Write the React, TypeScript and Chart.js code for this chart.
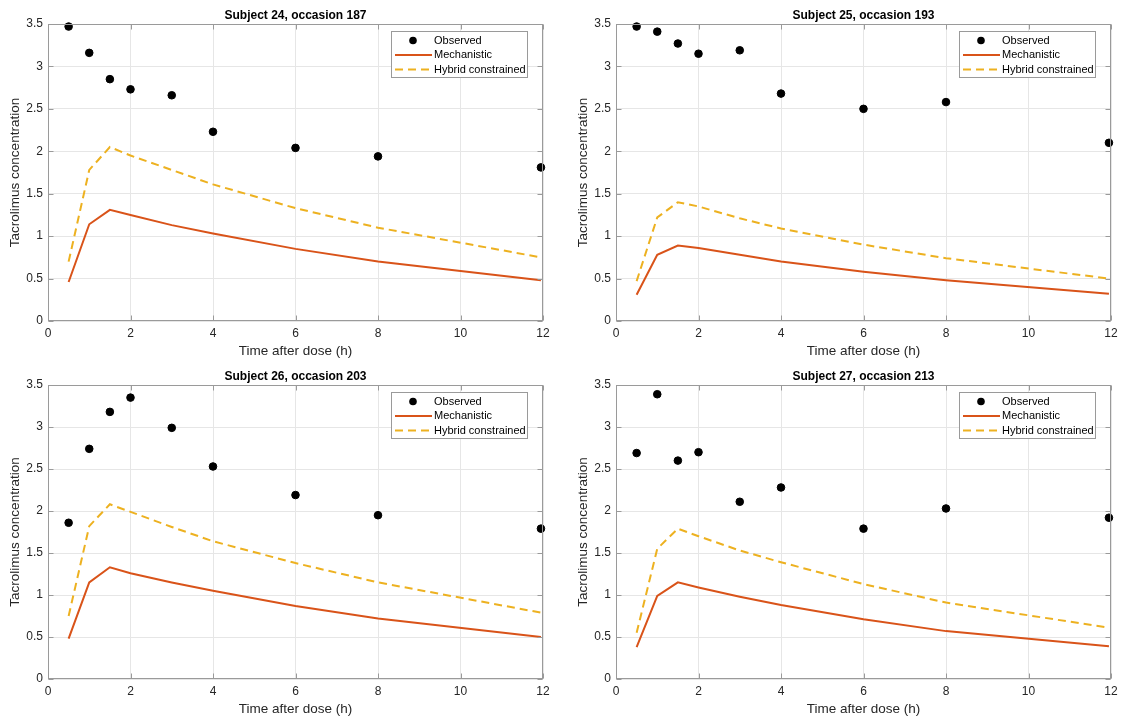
import React, { useEffect, useRef } from "react";
import { Chart, registerables } from "chart.js";

Chart.register(...registerables);

// sample times (h)
const times = [0.5, 1, 1.5, 2, 3, 4, 6, 8, 11.95];
const xTicks = [0, 2, 4, 6, 8, 10, 12];
const yTicks = [0, 0.5, 1, 1.5, 2, 2.5, 3, 3.5];

const titles = [
  "Subject 24, occasion 187",
  "Subject 25, occasion 193",
  "Subject 26, occasion 203",
  "Subject 27, occasion 213",
];

const observed24 = [3.47, 3.16, 2.85, 2.73, 2.66, 2.23, 2.04, 1.94, 1.81];
const mechanistic24 = [0.46, 1.14, 1.31, 1.25, 1.13, 1.03, 0.85, 0.7, 0.48];
const hybrid24 = [0.7, 1.78, 2.05, 1.95, 1.78, 1.61, 1.33, 1.1, 0.75];

const observed25 = [3.47, 3.41, 3.27, 3.15, 3.19, 2.68, 2.5, 2.58, 2.1];
const mechanistic25 = [0.31, 0.78, 0.89, 0.86, 0.78, 0.7, 0.58, 0.48, 0.32];
const hybrid25 = [0.47, 1.22, 1.4, 1.35, 1.21, 1.09, 0.9, 0.74, 0.5];

const observed26 = [1.86, 2.74, 3.18, 3.35, 2.99, 2.53, 2.19, 1.95, 1.79];
const mechanistic26 = [0.48, 1.15, 1.33, 1.26, 1.15, 1.05, 0.87, 0.72, 0.5];
const hybrid26 = [0.75, 1.82, 2.08, 1.99, 1.81, 1.64, 1.38, 1.15, 0.79];

const observed27 = [2.69, 3.39, 2.6, 2.7, 2.11, 2.28, 1.79, 2.03, 1.92];
const mechanistic27 = [0.38, 0.99, 1.15, 1.09, 0.98, 0.88, 0.71, 0.57, 0.39];
const hybrid27 = [0.55, 1.55, 1.79, 1.7, 1.53, 1.39, 1.13, 0.91, 0.61];

const seriesLabels = ["Observed", "Mechanistic", "Hybrid constrained"];

const FONT = "'Liberation Sans', Arial, Helvetica, sans-serif";
const AXIS_COLOR = "#9a9a9a";
const TEXT_COLOR = "#262626";

const toPoints = (ys: number[]) => ys.map((y, i) => ({ x: times[i], y }));

// axes box with inward tick marks, like the original figure
const framePlugin = {
  id: "frame",
  afterDraw(chart: any) {
    const { ctx, chartArea: a, scales } = chart;
    ctx.save();
    ctx.strokeStyle = AXIS_COLOR;
    ctx.lineWidth = 1;
    const l = Math.round(a.left) + 0.5;
    const r = Math.round(a.right) - 0.5;
    const t = Math.round(a.top) + 0.5;
    const b = Math.round(a.bottom) - 0.5;
    ctx.strokeRect(l, t, r - l, b - t);
    ctx.beginPath();
    xTicks.forEach((v) => {
      const px = Math.round(scales.x.getPixelForValue(v)) + 0.5;
      ctx.moveTo(px, b);
      ctx.lineTo(px, b - 5);
      ctx.moveTo(px, t);
      ctx.lineTo(px, t + 5);
    });
    yTicks.forEach((v) => {
      const py = Math.round(scales.y.getPixelForValue(v)) + 0.5;
      ctx.moveTo(l, py);
      ctx.lineTo(l + 5, py);
      ctx.moveTo(r, py);
      ctx.lineTo(r - 5, py);
    });
    ctx.stroke();
    ctx.restore();
  },
};

// boxed legend in the upper right of the plot area
const boxLegendPlugin = {
  id: "boxLegend",
  afterDraw(chart: any) {
    const { ctx, chartArea } = chart;
    const w = 136;
    const h = 46;
    const x0 = Math.round(chartArea.right - 16 - w);
    const y0 = Math.round(chartArea.top + 7);
    ctx.save();
    ctx.fillStyle = "#fff";
    ctx.fillRect(x0, y0, w, h);
    ctx.strokeStyle = AXIS_COLOR;
    ctx.lineWidth = 1;
    ctx.strokeRect(x0 + 0.5, y0 + 0.5, w, h);
    ctx.font = `11px ${FONT}`;
    ctx.textBaseline = "middle";
    ctx.textAlign = "left";
    chart.data.datasets.forEach((ds: any, i: number) => {
      const cy = y0 + 9.5 + i * 14.5;
      if (ds.showLine) {
        ctx.strokeStyle = ds.borderColor;
        ctx.lineWidth = ds.borderWidth;
        ctx.setLineDash(ds.borderDash || []);
        ctx.beginPath();
        ctx.moveTo(x0 + 4, cy);
        ctx.lineTo(x0 + 41, cy);
        ctx.stroke();
        ctx.setLineDash([]);
      } else {
        ctx.fillStyle = ds.backgroundColor;
        ctx.beginPath();
        ctx.arc(x0 + 22, cy, ds.pointRadius, 0, Math.PI * 2);
        ctx.fill();
      }
      ctx.fillStyle = "#000";
      ctx.fillText(ds.label, x0 + 43, cy);
    });
    ctx.restore();
  },
};

type PanelProps = {
  title: string;
  observed: number[];
  mechanistic: number[];
  hybrid: number[];
  left: number;
  top: number;
  width: number;
  height: number;
  padRight: number;
  padBottom: number;
};

const Panel = (p: PanelProps) => {
  const canvasRef = useRef<HTMLCanvasElement>(null);

  useEffect(() => {
    if (!canvasRef.current) return;
    const chart = new Chart(canvasRef.current, {
      type: "scatter",
      data: {
        datasets: [
          {
            label: seriesLabels[0],
            data: toPoints(p.observed),
            backgroundColor: "#000",
            borderColor: "#000",
            pointRadius: 3.8,
            showLine: false,
            clip: false,
          },
          {
            label: seriesLabels[1],
            data: toPoints(p.mechanistic),
            borderColor: "#D95319",
            backgroundColor: "#D95319",
            borderWidth: 2,
            pointRadius: 0,
            showLine: true,
          },
          {
            label: seriesLabels[2],
            data: toPoints(p.hybrid),
            borderColor: "#EDB120",
            backgroundColor: "#EDB120",
            borderWidth: 2,
            borderDash: [8, 5],
            pointRadius: 0,
            showLine: true,
          },
        ],
      },
      options: {
        animation: false,
        responsive: false,
        maintainAspectRatio: false,
        layout: { padding: { left: 0, top: 0, right: p.padRight, bottom: p.padBottom } },
        plugins: {
          legend: { display: false },
          tooltip: { enabled: false },
          title: {
            display: true,
            text: p.title,
            fullSize: false,
            color: "#000",
            font: { family: FONT, size: 12, weight: "bold" },
            padding: { top: 8, bottom: 1.6 },
          },
        },
        scales: {
          x: {
            type: "linear",
            min: 0,
            max: 12,
            afterBuildTicks: (s: any) => {
              s.ticks = xTicks.map((v) => ({ value: v }));
            },
            afterFit: (s: any) => {
              s.height = 40;
            },
            ticks: {
              color: TEXT_COLOR,
              font: { family: FONT, size: 12 },
              padding: 5,
              maxRotation: 0,
              callback: (v: any) => String(v),
            },
            grid: { color: "#e6e6e6", drawTicks: false },
            border: { display: false },
            title: {
              display: true,
              text: "Time after dose (h)",
              color: TEXT_COLOR,
              font: { family: FONT, size: 13.5 },
              padding: { top: 0, bottom: 1.9 },
            },
          },
          y: {
            type: "linear",
            min: 0,
            max: 3.5,
            afterBuildTicks: (s: any) => {
              s.ticks = yTicks.map((v) => ({ value: v }));
            },
            afterFit: (s: any) => {
              s.width = 48;
            },
            ticks: {
              color: TEXT_COLOR,
              font: { family: FONT, size: 12 },
              padding: 5,
              callback: (v: any) => String(v),
            },
            grid: { color: "#e6e6e6", drawTicks: false },
            border: { display: false },
            title: {
              display: true,
              text: "Tacrolimus concentration",
              color: TEXT_COLOR,
              font: { family: FONT, size: 13.5 },
              padding: { top: 6.9, bottom: 0 },
            },
          },
        },
      },
      plugins: [framePlugin, boxLegendPlugin],
    } as any);
    return () => chart.destroy();
  }, []);

  return (
    <canvas
      ref={canvasRef}
      width={p.width}
      height={p.height}
      style={{ position: "absolute", left: p.left, top: p.top, width: p.width, height: p.height }}
    />
  );
};

const App = () => {
  return (
    <div
      style={{
        position: "fixed",
        left: 0,
        top: 0,
        width: 1126,
        height: 727,
        background: "#fff",
        overflow: "hidden",
      }}
    >
      <Panel title={titles[0]} observed={observed24} mechanistic={mechanistic24} hybrid={hybrid24}
        left={0} top={0} width={563} height={361} padRight={20} padBottom={0} />
      <Panel title={titles[1]} observed={observed25} mechanistic={mechanistic25} hybrid={hybrid25}
        left={568} top={0} width={558} height={361} padRight={15} padBottom={0} />
      <Panel title={titles[2]} observed={observed26} mechanistic={mechanistic26} hybrid={hybrid26}
        left={0} top={361} width={563} height={366} padRight={20} padBottom={8} />
      <Panel title={titles[3]} observed={observed27} mechanistic={mechanistic27} hybrid={hybrid27}
        left={568} top={361} width={558} height={366} padRight={15} padBottom={8} />
    </div>
  );
};

export default App;
